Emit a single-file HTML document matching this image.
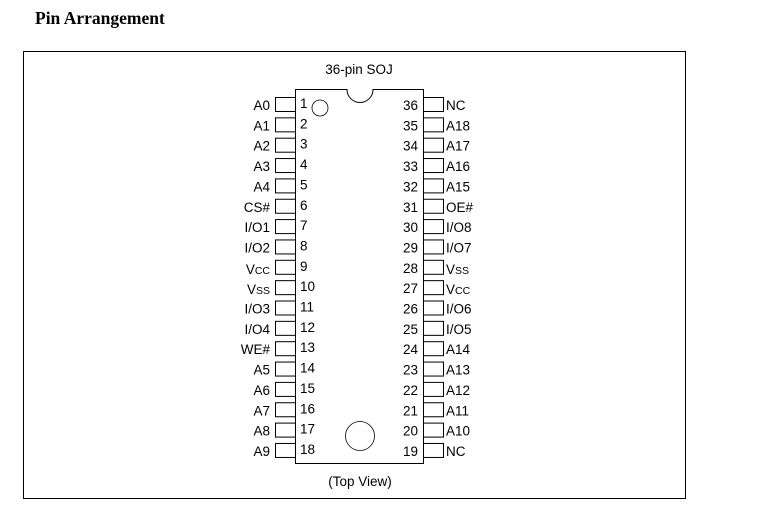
<!DOCTYPE html>
<html><head><meta charset="utf-8"><style>
html,body{margin:0;padding:0;background:#fff;}
svg{display:block;}
text{font-family:"Liberation Sans",Arial,sans-serif;font-size:13.5px;fill:#000;}
.t{font-family:"Liberation Serif",serif;font-size:17.5px;font-weight:bold;}
.l{text-anchor:end;}
.s{font-size:10.5px;}
rect.p{fill:#fff;stroke:#000;stroke-width:1;}
</style></head><body>
<svg width="757" height="524" viewBox="0 0 757 524" xmlns="http://www.w3.org/2000/svg">
<text class="t" x="35" y="24">Pin Arrangement</text>
<rect x="23.5" y="51.5" width="662" height="447" fill="none" stroke="#000"/>
<text x="359" y="74" text-anchor="middle">36-pin SOJ</text>
<path d="M295.5,89.5 H347 A13,13 0 0 0 373,89.5 H423.5 V463.5 H295.5 Z" fill="#fff" stroke="#000"/>
<circle cx="320" cy="108" r="8" fill="none" stroke="#000" stroke-width="0.8"/>
<circle cx="360" cy="436" r="14.5" fill="none" stroke="#000" stroke-width="0.8"/>
<text x="360" y="486" text-anchor="middle">(Top View)</text>

<g transform="translate(0,97)"><rect class="p" x="275.5" y="0.5" width="20" height="14"/><rect class="p" x="423.5" y="0.5" width="20" height="14"/><text class="l" x="270" y="13">A0</text><text x="300" y="11">1</text><text class="l" x="418" y="13">36</text><text x="446" y="13">NC</text></g>
<g transform="translate(0,117.35)"><rect class="p" x="275.5" y="0.5" width="20" height="14"/><rect class="p" x="423.5" y="0.5" width="20" height="14"/><text class="l" x="270" y="13">A1</text><text x="300" y="11">2</text><text class="l" x="418" y="13">35</text><text x="446" y="13">A18</text></g>
<g transform="translate(0,137.7)"><rect class="p" x="275.5" y="0.5" width="20" height="14"/><rect class="p" x="423.5" y="0.5" width="20" height="14"/><text class="l" x="270" y="13">A2</text><text x="300" y="11">3</text><text class="l" x="418" y="13">34</text><text x="446" y="13">A17</text></g>
<g transform="translate(0,158.05)"><rect class="p" x="275.5" y="0.5" width="20" height="14"/><rect class="p" x="423.5" y="0.5" width="20" height="14"/><text class="l" x="270" y="13">A3</text><text x="300" y="11">4</text><text class="l" x="418" y="13">33</text><text x="446" y="13">A16</text></g>
<g transform="translate(0,178.4)"><rect class="p" x="275.5" y="0.5" width="20" height="14"/><rect class="p" x="423.5" y="0.5" width="20" height="14"/><text class="l" x="270" y="13">A4</text><text x="300" y="11">5</text><text class="l" x="418" y="13">32</text><text x="446" y="13">A15</text></g>
<g transform="translate(0,198.75)"><rect class="p" x="275.5" y="0.5" width="20" height="14"/><rect class="p" x="423.5" y="0.5" width="20" height="14"/><text class="l" x="270" y="13">CS#</text><text x="300" y="11">6</text><text class="l" x="418" y="13">31</text><text x="446" y="13">OE#</text></g>
<g transform="translate(0,219.1)"><rect class="p" x="275.5" y="0.5" width="20" height="14"/><rect class="p" x="423.5" y="0.5" width="20" height="14"/><text class="l" x="270" y="13">I/O1</text><text x="300" y="11">7</text><text class="l" x="418" y="13">30</text><text x="446" y="13">I/O8</text></g>
<g transform="translate(0,239.45)"><rect class="p" x="275.5" y="0.5" width="20" height="14"/><rect class="p" x="423.5" y="0.5" width="20" height="14"/><text class="l" x="270" y="13">I/O2</text><text x="300" y="11">8</text><text class="l" x="418" y="13">29</text><text x="446" y="13">I/O7</text></g>
<g transform="translate(0,259.8)"><rect class="p" x="275.5" y="0.5" width="20" height="14"/><rect class="p" x="423.5" y="0.5" width="20" height="14"/><text class="l" x="270" y="14">V<tspan class="s">CC</tspan></text><text x="300" y="11">9</text><text class="l" x="418" y="13">28</text><text x="446" y="14">V<tspan class="s">SS</tspan></text></g>
<g transform="translate(0,280.15)"><rect class="p" x="275.5" y="0.5" width="20" height="14"/><rect class="p" x="423.5" y="0.5" width="20" height="14"/><text class="l" x="270" y="14">V<tspan class="s">SS</tspan></text><text x="300" y="11">10</text><text class="l" x="418" y="13">27</text><text x="446" y="14">V<tspan class="s">CC</tspan></text></g>
<g transform="translate(0,300.5)"><rect class="p" x="275.5" y="0.5" width="20" height="14"/><rect class="p" x="423.5" y="0.5" width="20" height="14"/><text class="l" x="270" y="13">I/O3</text><text x="300" y="11">11</text><text class="l" x="418" y="13">26</text><text x="446" y="13">I/O6</text></g>
<g transform="translate(0,320.85)"><rect class="p" x="275.5" y="0.5" width="20" height="14"/><rect class="p" x="423.5" y="0.5" width="20" height="14"/><text class="l" x="270" y="13">I/O4</text><text x="300" y="11">12</text><text class="l" x="418" y="13">25</text><text x="446" y="13">I/O5</text></g>
<g transform="translate(0,341.2)"><rect class="p" x="275.5" y="0.5" width="20" height="14"/><rect class="p" x="423.5" y="0.5" width="20" height="14"/><text class="l" x="270" y="13">WE#</text><text x="300" y="11">13</text><text class="l" x="418" y="13">24</text><text x="446" y="13">A14</text></g>
<g transform="translate(0,361.55)"><rect class="p" x="275.5" y="0.5" width="20" height="14"/><rect class="p" x="423.5" y="0.5" width="20" height="14"/><text class="l" x="270" y="13">A5</text><text x="300" y="11">14</text><text class="l" x="418" y="13">23</text><text x="446" y="13">A13</text></g>
<g transform="translate(0,381.9)"><rect class="p" x="275.5" y="0.5" width="20" height="14"/><rect class="p" x="423.5" y="0.5" width="20" height="14"/><text class="l" x="270" y="13">A6</text><text x="300" y="11">15</text><text class="l" x="418" y="13">22</text><text x="446" y="13">A12</text></g>
<g transform="translate(0,402.25)"><rect class="p" x="275.5" y="0.5" width="20" height="14"/><rect class="p" x="423.5" y="0.5" width="20" height="14"/><text class="l" x="270" y="13">A7</text><text x="300" y="11">16</text><text class="l" x="418" y="13">21</text><text x="446" y="13">A11</text></g>
<g transform="translate(0,422.6)"><rect class="p" x="275.5" y="0.5" width="20" height="14"/><rect class="p" x="423.5" y="0.5" width="20" height="14"/><text class="l" x="270" y="13">A8</text><text x="300" y="11">17</text><text class="l" x="418" y="13">20</text><text x="446" y="13">A10</text></g>
<g transform="translate(0,442.95)"><rect class="p" x="275.5" y="0.5" width="20" height="14"/><rect class="p" x="423.5" y="0.5" width="20" height="14"/><text class="l" x="270" y="13">A9</text><text x="300" y="11">18</text><text class="l" x="418" y="13">19</text><text x="446" y="13">NC</text></g>
</svg>
</body></html>
